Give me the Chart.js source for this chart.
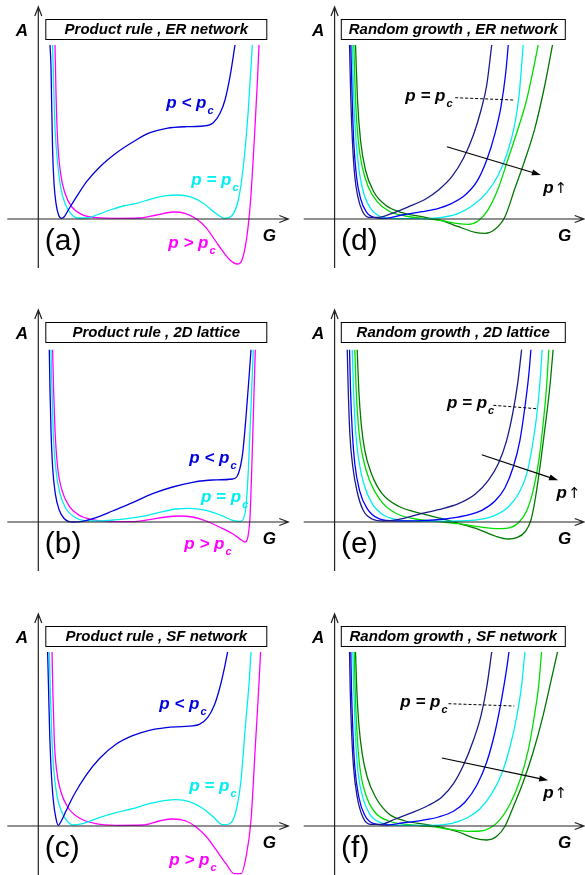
<!DOCTYPE html>
<html>
<head>
<meta charset="utf-8">
<script src="https://cdn.jsdelivr.net/npm/chart.js@4"></script>
<style>
  body { margin: 0; background: #fff; overflow: hidden; width: 585px; height: 875px; position: relative; }
  canvas { position: absolute; }
</style>
</head>
<body>
<canvas id="pa" width="292" height="290" style="left:0;top:0"></canvas>
<canvas id="pd" width="293" height="290" style="left:292px;top:0"></canvas>
<canvas id="pb" width="292" height="290" style="left:0;top:303px"></canvas>
<canvas id="pe" width="293" height="290" style="left:292px;top:303px"></canvas>
<canvas id="pc" width="292" height="290" style="left:0;top:607px"></canvas>
<canvas id="pf" width="293" height="290" style="left:292px;top:607px"></canvas>
<script>
// curves, [G, A] in arbitrary units (origin at the axes cross)

// (a) product rule, ER network
const productER_below = [[11.7,174],[12.7,152],[13.3,119],[14.3,69],[15.7,36],[17.7,15.7],[20.3,4],[23.3,0.7],[26,2.3],[30,9],[38.3,22.3],[48.3,37.3],[61.7,52.3],[78.3,66.3],[95,77.3],[111.7,86.3],[128.3,90.7],[148.3,92.3],[165,93],[175,96.3],[181.7,105.7],[186.7,119],[191.7,142.3],[196.7,174]];
const productER_at = [[14.3,174],[15.3,135.7],[16.7,92.3],[19,59],[22.3,32.3],[26.7,15.7],[32.3,5.7],[40,1],[48.3,1],[58.3,4],[71.7,9],[85,13],[98.3,15.7],[111.7,19.7],[128.3,23.3],[138.3,24],[151.7,22.3],[165,15.7],[176.7,6.3],[186.7,0.7],[193.3,3],[200,19],[205,52.3],[210,109],[214,174]];
const productER_above = [[16.7,174],[17.7,125.7],[19.3,79],[22.3,45.7],[26.7,25.7],[33.3,12.3],[43.3,4.7],[58.3,1.3],[78.3,0.7],[101.7,1],[118.3,4],[135,7],[146.7,5.7],[158.3,0],[168.3,-9.3],[180,-26],[191.7,-41],[199,-45],[204.3,-39.3],[209,-14.3],[212.3,19],[216,79],[219,135.7],[220.7,174]];

// (b) product rule, 2D lattice
const product2D_below = [[11,172.3],[11.7,131.7],[12.7,91.7],[14.3,55],[17,28.3],[21,11.7],[26,3.3],[34.3,0],[44.3,0.7],[57.7,4.3],[74.3,11],[94.3,19.3],[114.3,28.3],[134.3,35],[154.3,39.7],[174.3,42],[194.3,43],[200.3,49],[204.3,68.3],[207.7,105],[211,148.3],[212.7,172.3]];
const product2D_at = [[12.7,172.3],[13.7,131.7],[15,88.3],[17.7,51.7],[21.7,28.3],[27.7,13.3],[36,5],[46,1.3],[61,1],[77.7,2.3],[104.3,5.7],[121,9.7],[137.7,13],[151,13.7],[167.7,11.7],[182.7,6.7],[194.3,1.7],[201.7,0.7],[207,10],[209.7,45],[212,98.3],[215,172.3]];
const product2D_above = [[14.3,172.3],[15.3,131.7],[16.7,91.7],[19.3,55],[23.7,31.7],[31,15.7],[41,6.7],[54.3,2.3],[71,0.3],[94.3,0.3],[111,2.3],[127.7,5],[141,6],[154.3,5],[167.7,1],[181,-5],[194.3,-11.7],[202.7,-17.7],[206.7,-20],[209.7,-14.3],[211.7,5],[213.3,48.3],[215,105],[217,172.3]];

// (c) product rule, SF network
const productSF_below = [[9.3,174],[10.3,135.7],[11.3,95.7],[12.7,59],[15,25.7],[17.7,7.3],[20,0.7],[23,5],[27.7,15],[36,31.7],[47.7,50.7],[61,67.3],[77.7,81.7],[94.3,90.3],[111,95.7],[127.7,98.3],[147.7,99.7],[161,101.7],[169.3,108.3],[176,120.7],[181.7,139],[186,157.3],[189.3,174]];
const productSF_at = [[11,174],[12,135.7],[13.3,95.7],[15.3,59],[18.3,32.3],[22.7,15.7],[27.7,6.3],[34.3,1],[44.3,2.3],[61,8.3],[77.7,13.3],[94.3,17.3],[111,22.3],[127.7,25.7],[137.7,26.3],[151,24.3],[164.3,17.7],[174.3,9.7],[184.3,1.3],[191,2],[197.7,15],[202.7,45.7],[207,99],[211,145.7],[212.7,174]];
const productSF_above = [[13.7,174],[14.7,129],[16,85.7],[18.3,55.7],[22.7,34],[29.3,19],[41,8],[57.7,2.3],[77.7,0.7],[104.3,1],[121,5],[134.3,7],[147.7,5],[157.7,-1],[167.7,-10.3],[177.7,-23.7],[187.7,-37.7],[196,-47.7],[202.7,-47.7],[207.7,-31],[212.7,5.7],[217,79],[220.3,135.7],[222.3,174]];

// (d) random growth, ER network, p increasing
const randomER_p1 = [[15,174],[16.3,119],[18,75.7],[20.3,42.3],[23.3,22.3],[27.7,8.3],[34.3,1.7],[44.3,1.7],[57.7,5.7],[74.3,12.3],[91,19.7],[104.3,29],[117.7,42.3],[129.3,60.7],[139.3,84],[147,109],[152.7,134],[157.7,174]];
const randomER_p2 = [[16.3,174],[17.7,119],[19.3,75.7],[22,42.3],[26,20.7],[31.7,7.3],[39.3,1.7],[51,0.7],[67.7,4],[87.7,7.3],[104.3,10.7],[117.7,15.7],[131,24],[142.7,37.3],[152.7,59],[161,85.7],[167,112.3],[171.7,145.7],[174.3,174]];
const randomER_p3 = [[17.7,174],[19.3,119],[21.7,75.7],[25,45.7],[29.7,24],[36,10.7],[44.3,3.3],[57.7,0.7],[84.3,0.3],[107.7,1.7],[124.3,5.7],[139.3,14],[152.7,26.3],[164.3,44],[173.7,67.3],[180.3,92.3],[185,122.3],[189.3,174]];
const randomER_p4 = [[19.3,174],[21,119],[23.7,79],[27.7,52.3],[33.7,32.3],[42.7,17.3],[54.3,8],[71,3],[91,0.3],[107.7,-1.7],[124.3,-4.7],[134.3,-5.3],[144.3,-1.7],[154.3,9.7],[164.3,30.7],[174.3,60.7],[184.3,90.7],[192.7,119],[199.3,149],[204.3,174]];
const randomER_p5 = [[21,174],[23,119],[26,79],[31,49],[39.3,27.3],[51,14],[67.7,6.3],[91,1.7],[107.7,-1.7],[124.3,-7.7],[141,-13.3],[151,-14.3],[161,-10.3],[171,2.3],[181,30.7],[191,59],[201,90.7],[211,134],[218.7,174]];

// (e) random growth, 2D lattice
const random2D_p1 = [[12.7,172.3],[13.7,131.7],[15.3,88.3],[18.3,55],[22.7,30],[28.7,11.7],[37.7,3],[49.3,1],[64.3,2.7],[84.3,7.7],[104.3,12.3],[124.3,18.3],[141,27.7],[154.3,41.7],[164.3,58.3],[172.7,81.7],[178.7,108.3],[183.7,138.3],[187.7,172.3]];
const random2D_p2 = [[15,172.3],[16,131.7],[17.7,91.7],[20.3,58.3],[25,31.7],[32.7,13.3],[44.3,3.3],[61,1],[87.7,1.3],[111,3],[131,6.3],[147.7,11.7],[161,21],[171,34.3],[179.3,55],[186,81.7],[191,115],[195,148.3],[197,172.3]];
const random2D_p3 = [[17.7,172.3],[19,131.7],[21,91.7],[24.3,61.7],[29.3,38.3],[37.7,18.3],[49.3,6.7],[67.7,1.7],[91,0.7],[124.3,1],[144.3,2.3],[161,6.7],[174.3,15],[184.3,27.7],[192.7,47.7],[198.3,75],[202.7,105],[206,138.3],[208.3,172.3]];
const random2D_p4 = [[20.3,172.3],[21.7,131.7],[24.3,91.7],[28.3,65],[35,41.7],[46,21.7],[61,9],[81,3],[104.3,0.3],[124.3,-1.7],[144.3,-4.7],[164.3,-6.7],[176,-5.7],[184.3,-1],[192.7,11],[199.3,31.7],[205,61.7],[209.3,98.3],[212.7,135],[215,172.3]];
const random2D_p5 = [[22.7,172.3],[24.3,131.7],[26.7,98.3],[30.3,71.7],[37,48.3],[47.7,28.3],[64.3,15.7],[87.7,8.3],[107.7,3.3],[127.7,-2.3],[144.3,-7.3],[161,-14],[174.3,-17],[182.7,-15.7],[191,-10],[197,1.7],[201.7,25],[207,61.7],[211.7,98.3],[216,135],[219.3,172.3]];

// (f) random growth, SF network
const randomSF_p1 = [[15,174],[15.7,135.7],[17,95.7],[19,59],[22.7,29],[28.3,9],[36,1.7],[46,1.7],[61,7],[77.7,13.3],[94.3,20.7],[107.7,29],[119.3,42.3],[129.3,60.7],[139.3,85.7],[147,110.7],[152.7,139],[157.7,174]];
const randomSF_p2 = [[16.3,174],[17,135.7],[18.3,95.7],[20.3,59],[24.3,29],[30.3,10.7],[39.3,2.3],[51,1],[67.7,3],[87.7,5.7],[104.3,9],[119.3,14.7],[131,24],[142.7,40.7],[152.7,64],[161,94],[167.7,127.3],[172.7,157.3],[175,174]];
const randomSF_p3 = [[18.3,174],[19.3,135.7],[20.7,95.7],[23,59],[27.7,30.7],[35,12.3],[46,3.3],[64.3,0.7],[97.7,0.7],[117.7,2.7],[132.7,8],[146,17.3],[157.7,32.3],[167.7,52.3],[176,79],[182.7,109],[187.7,140.7],[191,174]];
const randomSF_p4 = [[19.7,174],[20.7,135.7],[22.3,95.7],[25.3,59],[31,32.3],[40.3,14],[54.3,5],[74.3,1.3],[97.7,-0.7],[117.7,-3.7],[132.7,-5.3],[146,-5],[156,-2],[166,6.3],[176,21.7],[186,45.7],[194.3,75.7],[200.3,109],[205,142.3],[207.7,174]];
const randomSF_p5 = [[21,174],[22.3,135.7],[24.3,102.3],[27.7,72.3],[32.7,49],[41,29],[54.3,12.3],[71,5],[91,1.7],[107.7,-1.3],[124.3,-6],[141,-12.3],[152.7,-14],[162.7,-10.3],[171,-0.3],[179.3,19],[189.3,44],[199.3,74],[209.3,110.7],[217.7,147.3],[223.7,174]];

const productColors = ["#0000dd", "#00eeee", "#ff00ff"];
const randomColors = ["#1a1a8a", "#0000ff", "#00eeee", "#00dd00", "#007800"];

const panels = [
  { id: "pa", col: 0, title: "Product rule , ER network", tag: "(a)",
    series: [productER_below, productER_at, productER_above],
    labels: [["p < p", 128, 111], ["p = p", 153, 34], ["p > p", 130, -29]] },
  { id: "pb", col: 0, title: "Product rule , 2D lattice", tag: "(b)",
    series: [product2D_below, product2D_at, product2D_above],
    labels: [["p < p", 151, 58.7], ["p = p", 162.7, 20.3], ["p > p", 146, -27.3]] },
  { id: "pc", col: 0, title: "Product rule , SF network", tag: "(c)",
    series: [productSF_below, productSF_at, productSF_above],
    labels: [["p < p", 121, 116.7], ["p = p", 151, 35.3], ["p > p", 131, -39]] },
  { id: "pd", col: 1, title: "Random growth , ER network", tag: "(d)",
    series: [randomER_p1, randomER_p2, randomER_p3, randomER_p4, randomER_p5],
    note: [71, 117.7], dash: [[121, 121.3], [179.3, 119]], arrow: [[112.7, 72.3], [207, 44]], up: [209.3, 26.3] },
  { id: "pe", col: 1, title: "Random growth , 2D lattice", tag: "(e)",
    series: [random2D_p1, random2D_p2, random2D_p3, random2D_p4, random2D_p5],
    note: [112.7, 113.7], dash: [[159.3, 116.7], [202.7, 113.3]], arrow: [[147.7, 67.3], [224.3, 41.7]], up: [222.7, 24] },
  { id: "pf", col: 1, title: "Random growth , SF network", tag: "(f)",
    series: [randomSF_p1, randomSF_p2, randomSF_p3, randomSF_p4, randomSF_p5],
    note: [66, 119.3], dash: [[114.3, 122.3], [180.3, 120]], arrow: [[107.7, 68], [214.3, 45.7]], up: [209.3, 28] }
];

const FONT = '"Liberation Sans", Arial, sans-serif';

function subLabel(ctx, text, x, y, color) {
  ctx.fillStyle = color;
  ctx.textAlign = "left";
  ctx.textBaseline = "alphabetic";
  ctx.font = "italic bold 17px " + FONT;
  ctx.fillText(text, x, y);
  const w = ctx.measureText(text).width;
  ctx.font = "italic bold 11px " + FONT;
  ctx.fillText("c", x + w + 1, y + 6);
}

function makeDecor(panel) {
  return {
    id: "decor",
    afterDatasetsDraw(chart) {
      const ctx = chart.ctx;
      const ca = chart.chartArea;
      const X = v => chart.scales.x.getPixelForValue(v);
      const Y = v => chart.scales.y.getPixelForValue(v);
      const x0 = X(0), y0 = Y(0);
      ctx.save();

      // axes with open arrow heads
      ctx.strokeStyle = "#222";
      ctx.lineWidth = 1.2;
      ctx.beginPath();
      ctx.moveTo(ca.left, y0); ctx.lineTo(ca.right, y0);
      ctx.moveTo(ca.right - 9, y0 - 3.5); ctx.lineTo(ca.right, y0); ctx.lineTo(ca.right - 9, y0 + 3.5);
      ctx.moveTo(x0, ca.bottom); ctx.lineTo(x0, 7);
      ctx.moveTo(x0 - 3.5, 16); ctx.lineTo(x0, 7); ctx.lineTo(x0 + 3.5, 16);
      ctx.stroke();

      // title box
      const bw = panel.col ? 224 : 221;
      const bx = x0 + (panel.col ? 6.7 : 7.5);
      ctx.fillStyle = "#fff";
      ctx.fillRect(bx, 19.5, bw, 20);
      ctx.lineWidth = 1;
      ctx.strokeStyle = "#000";
      ctx.strokeRect(bx, 19.5, bw, 20);
      ctx.fillStyle = "#000";
      ctx.font = "italic bold 15px " + FONT;
      ctx.textAlign = "center";
      ctx.textBaseline = "middle";
      ctx.fillText(panel.title, bx + bw / 2, 30);

      // axis names and panel tag
      ctx.font = "italic bold 17px " + FONT;
      ctx.fillText("A", x0 - 16.5, 31);
      ctx.fillText("G", ca.right - 19, y0 + 17);
      ctx.font = "30px " + FONT;
      ctx.textAlign = "left";
      ctx.textBaseline = "alphabetic";
      ctx.fillText(panel.tag, x0 + 6.5, y0 + 31);

      if (panel.labels) {
        panel.labels.forEach((l, i) => subLabel(ctx, l[0], X(l[1]), Y(l[2]), productColors[i]));
      } else {
        subLabel(ctx, "p = p", X(panel.note[0]), Y(panel.note[1]), "#000");
        // dashed pointer to the critical curve
        ctx.strokeStyle = "#000";
        ctx.lineWidth = 1;
        ctx.setLineDash([3, 2]);
        ctx.beginPath();
        ctx.moveTo(X(panel.dash[0][0]), Y(panel.dash[0][1]));
        ctx.lineTo(X(panel.dash[1][0]), Y(panel.dash[1][1]));
        ctx.stroke();
        ctx.setLineDash([]);
        // arrow for increasing p
        const ax = X(panel.arrow[0][0]), ay = Y(panel.arrow[0][1]);
        const bx2 = X(panel.arrow[1][0]), by2 = Y(panel.arrow[1][1]);
        const ang = Math.atan2(by2 - ay, bx2 - ax);
        ctx.lineWidth = 1.2;
        ctx.beginPath();
        ctx.moveTo(ax, ay); ctx.lineTo(bx2 - 6 * Math.cos(ang), by2 - 6 * Math.sin(ang));
        ctx.stroke();
        ctx.beginPath();
        ctx.moveTo(bx2, by2);
        ctx.lineTo(bx2 - 9 * Math.cos(ang) + 3 * Math.sin(ang), by2 - 9 * Math.sin(ang) - 3 * Math.cos(ang));
        ctx.lineTo(bx2 - 9 * Math.cos(ang) - 3 * Math.sin(ang), by2 - 9 * Math.sin(ang) + 3 * Math.cos(ang));
        ctx.closePath();
        ctx.fill();
        // p-up label
        ctx.font = "italic bold 17px " + FONT;
        const ux = X(panel.up[0]), uy = Y(panel.up[1]);
        ctx.fillText("p", ux, uy);
        const pw = ctx.measureText("p").width;
        ctx.font = "15px DejaVu Sans, sans-serif";
        ctx.fillText("\u2191", ux + pw + 1, uy);
      }
      ctx.restore();
    }
  };
}

panels.forEach(panel => {
  const colors = panel.labels ? productColors : randomColors;
  new Chart(document.getElementById(panel.id), {
    type: "line",
    data: {
      datasets: panel.series.map((s, i) => ({
        data: s.map(p => ({ x: p[0], y: p[1] })),
        borderColor: colors[i],
        borderWidth: 1.3,
        pointRadius: 0,
        fill: false,
        cubicInterpolationMode: "monotone"
      }))
    },
    options: {
      responsive: false,
      animation: false,
      events: [],
      layout: { padding: { top: 45, bottom: 22, left: panel.col ? 11.7 : 7.3, right: panel.col ? 1.3 : 3.7 } },
      scales: {
        x: { type: "linear", min: -31, max: 250, display: false },
        y: { type: "linear", min: -49, max: 174, display: false }
      },
      plugins: { legend: { display: false }, tooltip: { enabled: false } }
    },
    plugins: [makeDecor(panel)]
  });
});
</script>
</body>
</html>
